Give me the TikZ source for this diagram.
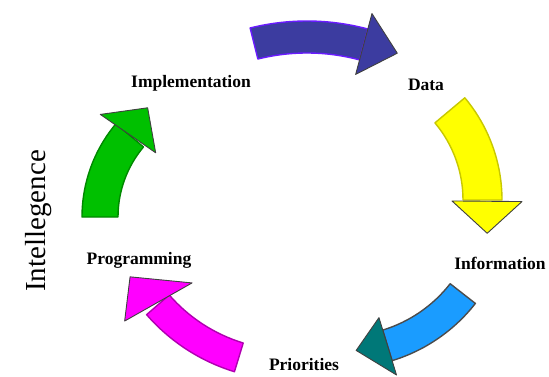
\documentclass[tikz,border=0pt]{standalone}
\usepackage{fontspec}
\setmainfont{Liberation Serif}
\definecolor{datablue}{HTML}{3C3CA0}
\definecolor{dataedge}{HTML}{6A1BFF}
\definecolor{infoyellow}{HTML}{FFFF00}
\definecolor{infoedge}{HTML}{C8C800}
\definecolor{prioblue}{HTML}{1A9CFF}
\definecolor{prioteal}{HTML}{007878}
\definecolor{progpink}{HTML}{FF00FF}
\definecolor{progedge}{HTML}{B000B0}
\definecolor{implgreen}{HTML}{00C000}
\definecolor{impledge}{HTML}{008800}
\begin{document}
\begin{tikzpicture}[x=1pt,y=1pt,
    steplabel/.style={font=\fontsize{17.5}{20}\selectfont\bfseries},
    shaft/.style={line width=1.4pt, line join=round},
    head/.style={draw=black!75, line width=0.9pt, line join=round}]
        \useasboundingbox (0,0) rectangle (549,376);
        % Data
        \begin{scope}[shift={(307,120)}]
            \filldraw[shaft, fill=datablue, draw=dataedge] (104:235) arc[start angle=104, end angle=75, radius=235] -- (75:203) arc[start angle=75, end angle=104, radius=203] -- cycle;
            \filldraw[head, fill=datablue] (75:188) -- (75:251) -- (66:222) -- cycle;
        \end{scope}
        % Information
        \begin{scope}[shift={(343,176)}]
            \filldraw[shaft, fill=infoyellow, draw=infoedge] (40:159) arc[start angle=40, end angle=0, radius=159] -- (0:120) arc[start angle=0, end angle=40, radius=120] -- cycle;
            \filldraw[head, fill=infoyellow] (-0.5:109) -- (-0.5:179) -- (-13:148) -- cycle;
        \end{scope}
        % Priorities
        \begin{scope}[shift={(343,176)}]
            \filldraw[shaft, fill=prioblue, draw=black!70] (-38:168) arc[start angle=-38, end angle=-73, radius=168] -- (-73:136) arc[start angle=-73, end angle=-38, radius=136] -- cycle;
            \filldraw[head, fill=prioteal] (-73:123) -- (-73:183) -- (-85:151) -- cycle;
        \end{scope}
        % Programming
        \begin{scope}[shift={(290,186)}]
            \filldraw[shaft, fill=progpink, draw=progedge] (253:190) arc[start angle=253, end angle=221, radius=190] -- (221:160) arc[start angle=221, end angle=253, radius=160] -- cycle;
            \filldraw[head, fill=progpink] (223.5:135) -- (218.4:211) -- (208.5:182) -- cycle;
        \end{scope}
        % Implementation
        \begin{scope}[shift={(227,159)}]
            \filldraw[shaft, fill=implgreen, draw=impledge] (180:145) arc[start angle=180, end angle=140, radius=145] -- (140:109) arc[start angle=140, end angle=180, radius=109] -- cycle;
            \filldraw[head, fill=implgreen] (138:96) -- (141:163) -- (126:135) -- cycle;
        \end{scope}
        \node[steplabel] (implementation) at (191,293) {Implementation};
        \node[steplabel] (data) at (426,291) {Data};
        \node[steplabel] (information) at (500,113) {Information};
        \node[steplabel] (priorities) at (304,11) {Priorities};
        \node[steplabel] (programming) at (139,116) {Programming};
        \node[rotate=90, font=\fontsize{29}{31}\selectfont] (intellegence) at (39,155) {Intellegence};
    \end{tikzpicture}
\end{document}
